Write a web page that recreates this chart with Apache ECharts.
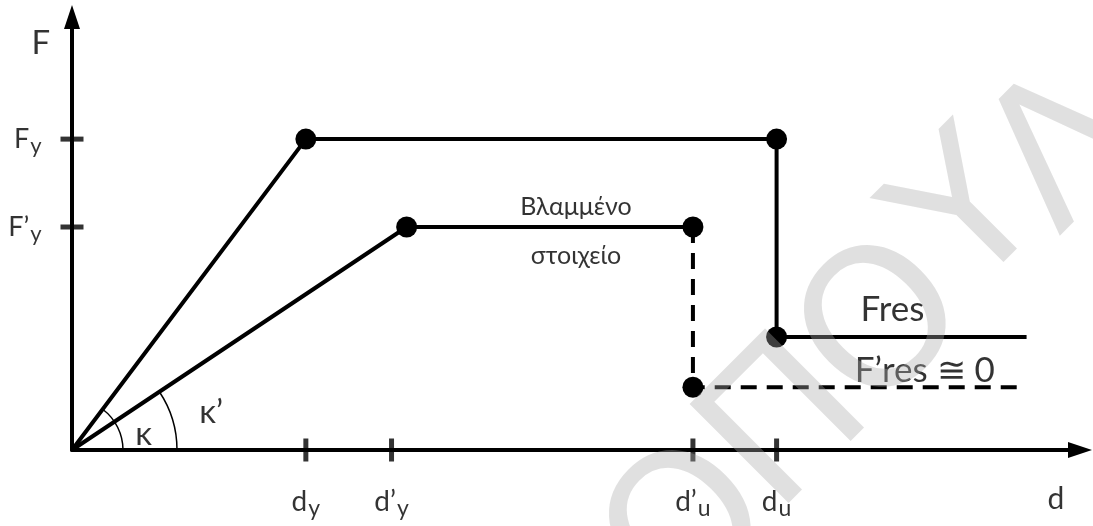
<!DOCTYPE html>
<html>
<head>
<meta charset="utf-8">
<script src="https://cdn.jsdelivr.net/npm/echarts@6/dist/echarts.min.js"></script>
<style>
    html, body { margin: 0; padding: 0; background: #fff; }
    #chart { width: 1093px; height: 526px; }
</style>
</head>
<body>
<div id="chart"></div>
<script>
// tick marks on the d axis
const dTickValues = [23.2, 31.7, 61.6, 69.9];
const dTickNames = ['d', 'd’', 'd’', 'd'];
const dTickSubs = ['y', 'y', 'u', 'u'];

// tick marks on the F axis
const fTickValues = [71.8, 51.5];
const fTickNames = ['F', 'F’'];
const fTickSubs = ['y', 'y'];

// intact element
const intactX = [0, 23.2, 69.9, 69.9, 94.7];
const intactY = [0, 71.8, 71.8, 26.1, 26.1];
const intactDots = [false, true, true, true, false];

// damaged element (solid part)
const damagedX = [0, 33.2, 61.6];
const damagedY = [0, 51.5, 51.5];
const damagedDots = [false, true, true];

// damaged element after failure (dashed)
const residualX = [61.6, 61.6, 94.7];
const residualY = [51.5, 14.5, 14.5];
const residualDots = [false, true, false];

// text notes
const noteTexts = ['Βλαμμένο', 'στοιχείο', 'Fres', 'F’res ≅ 0', 'κ', 'κ’', 'F', 'd'];
const noteX = [50.0, 50.0, 81.4, 84.6, 7.1, 13.8, -3.1, 97.6];
const noteY = [56.1, 44.8, 32.3, 18.2, 3.5, 8.6, 93.8, -11.5];

const FONT = 'Lato';
const noteSizes = [25, 25, 35, 35, 33, 33, 33, 30];
const arcRadius = [51, 105];

function pts(xs, ys, dots) {
    return xs.map((x, i) => ({ value: [x, ys[i]], symbolSize: dots[i] ? 21 : 0 }));
}

const chart = echarts.init(document.getElementById('chart'));

const axisCommon = {
    type: 'value',
    min: 0,
    max: 100,
    splitLine: { show: false },
    axisTick: { show: false },
    axisLabel: { show: false },
    axisLine: {
        onZero: false,
        symbol: ['none', 'triangle'],
        symbolSize: [16, 24],
        lineStyle: { color: '#000', width: 4 }
    }
};

const lineCommon = {
    type: 'line',
    symbol: 'circle',
    showAllSymbol: true,
    animation: false,
    itemStyle: { color: '#000' },
    emphasis: { disabled: true },
    z: 3
};

const richSizes = {};
noteSizes.forEach(s => { richSizes['t' + s] = { fontSize: s, fontFamily: FONT, color: '#000' }; });

chart.setOption({
    animation: false,
    grid: { left: 72, right: 13, top: 17, bottom: 76, outerBoundsMode: 'none' },
    xAxis: axisCommon,
    yAxis: axisCommon,
    series: [
        Object.assign({}, lineCommon, {
            name: 'intact',
            data: pts(intactX, intactY, intactDots),
            lineStyle: { color: '#000', width: 4 }
        }),
        Object.assign({}, lineCommon, {
            name: 'damaged',
            data: pts(damagedX, damagedY, damagedDots),
            lineStyle: { color: '#000', width: 4 }
        }),
        Object.assign({}, lineCommon, {
            name: 'residual',
            data: pts(residualX, residualY, residualDots),
            lineStyle: { color: '#000', width: 4, type: [16, 10] }
        }),
        {
            // d axis ticks + labels
            type: 'scatter',
            clip: false,
            symbol: 'rect',
            symbolSize: [5, 23],
            itemStyle: { color: '#000' },
            data: dTickValues.map((v, i) => ({ value: [v, 0], main: dTickNames[i], sub: dTickSubs[i] })),
            label: {
                show: true,
                position: 'bottom',
                distance: 22,
                formatter: p => `{m|${p.data.main}}{s|${p.data.sub}}`,
                rich: {
                    m: { fontSize: 28, fontFamily: FONT, color: '#000' },
                    s: { fontSize: 23, fontFamily: FONT, color: '#000', padding: [14, 0, 0, 1] }
                }
            },
            z: 4
        },
        {
            // F axis ticks + labels
            type: 'scatter',
            clip: false,
            symbol: 'rect',
            symbolSize: [23, 5],
            itemStyle: { color: '#000' },
            data: fTickValues.map((v, i) => ({ value: [0, v], main: fTickNames[i], sub: fTickSubs[i] })),
            label: {
                show: true,
                position: 'left',
                distance: 19,
                formatter: p => `{m|${p.data.main}}{s|${p.data.sub}}`,
                rich: {
                    m: { fontSize: 27, fontFamily: FONT, color: '#000' },
                    s: { fontSize: 22, fontFamily: FONT, color: '#000', padding: [14, 0, 0, 1] }
                }
            },
            z: 4
        },
        {
            // angle arcs κ, κ'
            type: 'custom',
            clip: false,
            data: [[intactX[1], intactY[1]], [damagedX[1], damagedY[1]]],
            renderItem: (params, api) => {
                const o = api.coord([0, 0]);
                const p = api.coord([api.value(0), api.value(1)]);
                const ang = Math.atan2(p[1] - o[1], p[0] - o[0]);
                return {
                    type: 'arc',
                    shape: { cx: o[0], cy: o[1], r: arcRadius[params.dataIndex], startAngle: ang, endAngle: 0, clockwise: true },
                    style: { stroke: '#000', fill: null, lineWidth: 1.5 }
                };
            },
            z: 2
        },
        {
            // text notes
            type: 'scatter',
            clip: false,
            symbolSize: 0,
            data: noteTexts.map((t, i) => ({ value: [noteX[i], noteY[i]], name: t, size: noteSizes[i] })),
            label: {
                show: true,
                position: 'inside',
                formatter: p => `{t${p.data.size}|${p.data.name}}`,
                rich: richSizes
            },
            z: 5
        }
    ],
    graphic: {
        elements: [
            ['Ο', 694, 535], ['Π', 791, 430], ['Ο', 889, 330], ['Υ', 975, 220], ['Λ', 1070, 155]
        ].map(([ch, x, y]) => ({
            type: 'text',
            x: x,
            y: y,
            rotation: Math.PI / 4,
            z: 100,
            silent: true,
            style: {
                text: ch,
                fontSize: 192,
                fontFamily: 'DejaVu Sans',
                fill: 'rgba(168,168,168,0.36)',
                align: 'center',
                verticalAlign: 'middle'
            }
        }))
    }
});

window.addEventListener('resize', () => chart.resize());
</script>
</body>
</html>
